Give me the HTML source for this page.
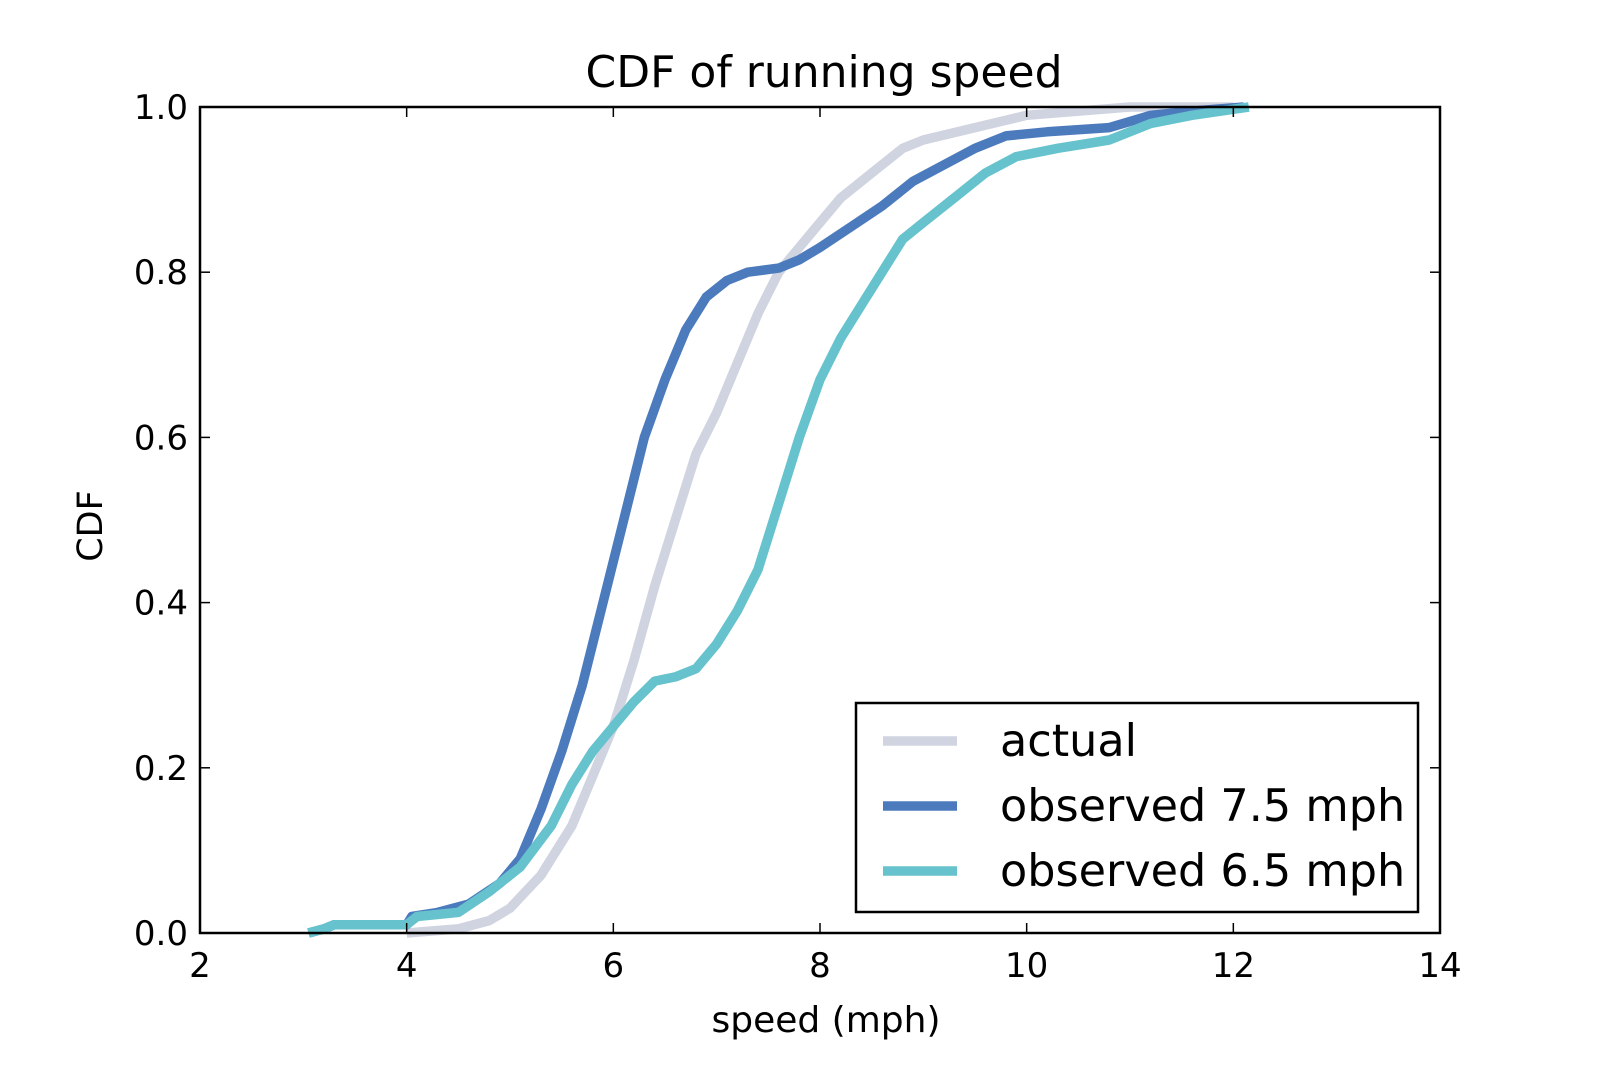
<!DOCTYPE html>
<html><head><meta charset="utf-8"><style>
body{margin:0;background:#fff}
svg{display:block;font-family:"DejaVu Sans","Liberation Sans",sans-serif}
</style></head><body>
<svg id="chart" width="1600" height="1067" viewBox="0 0 1600 1067" xmlns="http://www.w3.org/2000/svg">
<text x="824" y="87" font-size="44" text-anchor="middle">CDF of running speed</text>
<g id="plot"></g>
<text x="826" y="1032" font-size="36" text-anchor="middle">speed (mph)</text>
<text transform="translate(102,526) rotate(-90)" font-size="35" text-anchor="middle">CDF</text>
</svg>
<script>
const xTicks=[2,4,6,8,10,12,14];
const yTicks=[0.0,0.2,0.4,0.6,0.8,1.0];
const seriesNames=["actual","observed 7.5 mph","observed 6.5 mph"];
const seriesColors=["#d0d3e0","#4c7bbd","#66c2cc"];
const actualX=[4.0,4.5,4.8,5.0,5.3,5.6,5.8,6.0,6.2,6.4,6.6,6.8,7.0,7.2,7.4,7.6,7.8,8.0,8.2,8.5,8.8,9.0,9.5,10,10.5,11,12];
const actualY=[0,0.005,0.015,0.03,0.07,0.13,0.19,0.25,0.33,0.42,0.5,0.58,0.63,0.69,0.75,0.8,0.83,0.86,0.89,0.92,0.95,0.96,0.975,0.99,0.995,1.0,1.0];
const obs75X=[3.05,3.2,3.3,4.0,4.05,4.3,4.6,4.9,5.1,5.3,5.5,5.7,5.9,6.1,6.3,6.5,6.7,6.9,7.1,7.3,7.6,7.8,8.0,8.3,8.6,8.9,9.2,9.5,9.8,10.2,10.8,11.2,11.6,12.1];
const obs75Y=[0,0.005,0.01,0.01,0.02,0.025,0.035,0.06,0.09,0.15,0.22,0.3,0.4,0.5,0.6,0.67,0.73,0.77,0.79,0.8,0.805,0.815,0.83,0.855,0.88,0.91,0.93,0.95,0.965,0.97,0.975,0.99,0.995,1.0];
const obs65X=[3.05,3.2,3.3,4.0,4.1,4.5,4.8,5.1,5.4,5.6,5.8,6.0,6.2,6.4,6.6,6.8,7.0,7.2,7.4,7.6,7.8,8.0,8.2,8.4,8.6,8.8,9.0,9.3,9.6,9.9,10.3,10.8,11.2,11.6,12.15];
const obs65Y=[0,0.005,0.01,0.01,0.02,0.025,0.05,0.08,0.13,0.18,0.22,0.25,0.28,0.305,0.31,0.32,0.35,0.39,0.44,0.52,0.6,0.67,0.72,0.76,0.8,0.84,0.86,0.89,0.92,0.94,0.95,0.96,0.98,0.99,1.0];

const L=200,R=1440,T=107,B=933;
const sx=v=>L+(v-2)/(14-2)*(R-L);
const sy=v=>B-v*(B-T);
const NS="http://www.w3.org/2000/svg";
const g=document.getElementById('plot');
function mk(tag,attrs){const e=document.createElementNS(NS,tag);for(const k in attrs)e.setAttribute(k,attrs[k]);g.appendChild(e);return e;}

const xs=[actualX,obs75X,obs65X], ys=[actualY,obs75Y,obs65Y];
const lineNames=['actual-line','observed-7-5-line','observed-6-5-line'];
for(let s=0;s<3;s++){
  const d=xs[s].map((x,i)=>(i?'L':'M')+sx(x).toFixed(1)+','+sy(ys[s][i]).toFixed(1)).join(' ');
  const p=mk('path',{d:d,fill:'none',stroke:seriesColors[s],'stroke-width':9.5,'stroke-linejoin':'round'});
  
  
}
const fr=mk('rect',{x:L,y:T,width:R-L,height:B-T,fill:'none',stroke:'#000','stroke-width':2.5});


xTicks.forEach(v=>{
  const x=sx(v);
  mk('line',{x1:x,x2:x,y1:B,y2:B-10,stroke:'#000','stroke-width':1.5});
  mk('line',{x1:x,x2:x,y1:T,y2:T+10,stroke:'#000','stroke-width':1.5});
  const t=mk('text',{x:x,y:B+44,'font-size':34,'text-anchor':'middle'});
  t.textContent=v;
  
  
});
yTicks.forEach(v=>{
  const y=sy(v);
  mk('line',{x1:L,x2:L+10,y1:y,y2:y,stroke:'#000','stroke-width':1.5});
  mk('line',{x1:R,x2:R-10,y1:y,y2:y,stroke:'#000','stroke-width':1.5});
  const t=mk('text',{x:L-12,y:y+12,'font-size':34,'text-anchor':'end'});
  t.textContent=v.toFixed(1);
  
  
});
const lg=mk('rect',{x:856,y:703,width:562,height:209,fill:'#fff',stroke:'#000','stroke-width':2.5});


const legY=[741,806,871];
for(let s=0;s<3;s++){
  const ln=mk('line',{x1:883,x2:957,y1:legY[s],y2:legY[s],stroke:seriesColors[s],'stroke-width':9.5});
  
  
  const t=mk('text',{x:1000,y:legY[s]+15,'font-size':44.5});
  t.textContent=seriesNames[s];
  
  
}
</script>
</body></html>
